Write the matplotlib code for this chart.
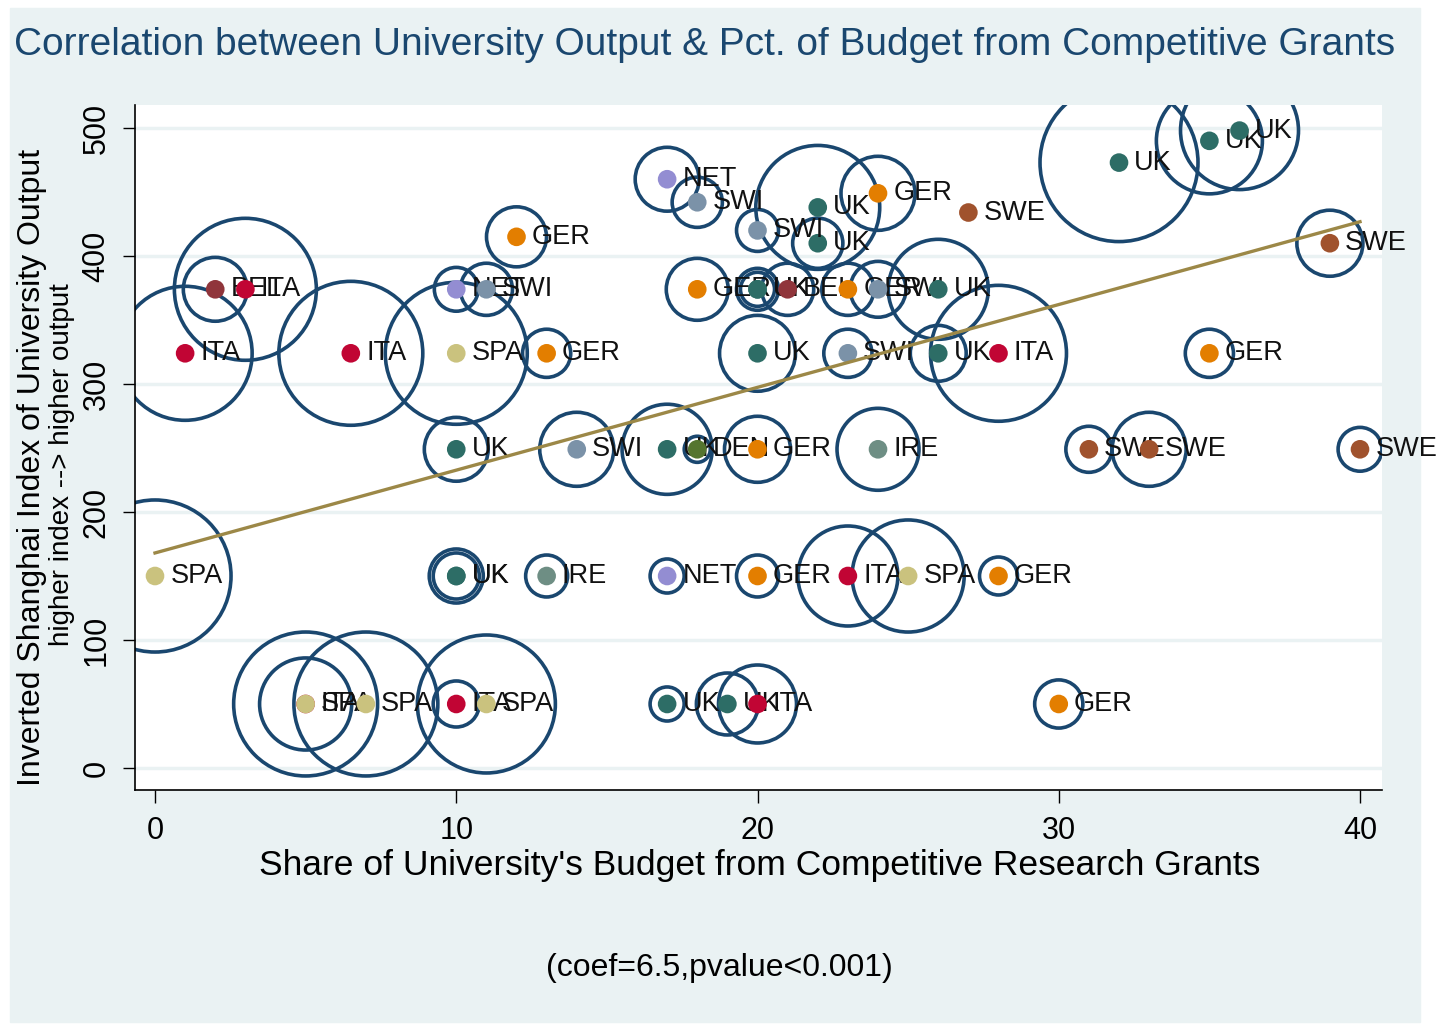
import numpy as np
import matplotlib.pyplot as plt
from matplotlib.patches import Rectangle

plt.rcParams['font.family'] = ['Liberation Sans', 'DejaVu Sans']

# Share of budget from competitive grants, inverted Shanghai index, country, bubble weight
share = [5, 5, 7, 10, 11, 17, 19, 20, 30,
         0, 10, 10, 13, 17, 20, 23, 25, 28,
         10, 14, 17, 18, 20, 24, 31, 33, 40,
         1, 6.5, 10, 13, 20, 23, 26, 28, 35,
         2, 3, 10, 11, 18, 20, 20, 21, 23, 24, 26,
         39, 22, 20, 22, 24, 27, 17, 18, 32, 35, 36, 12]
index = [50, 50, 50, 50, 50, 50, 50, 50, 50,
         150, 150, 150, 150, 150, 150, 150, 150, 150,
         249, 249, 249, 249, 249, 249, 249, 249, 249,
         324, 324, 324, 324, 324, 324, 324, 324, 324,
         374, 374, 374, 374, 374, 374, 374, 374, 374, 374, 374,
         410, 410, 420, 438, 449, 434, 460, 442, 473, 490, 498, 415]
country = ['ITA', 'SPA', 'SPA', 'ITA', 'SPA', 'UK', 'UK', 'ITA', 'GER',
           'SPA', 'UK', 'UK', 'IRE', 'NET', 'GER', 'ITA', 'SPA', 'GER',
           'UK', 'SWI', 'UK', 'DEN', 'GER', 'IRE', 'SWE', 'SWE', 'SWE',
           'ITA', 'ITA', 'SPA', 'GER', 'UK', 'SWI', 'UK', 'ITA', 'GER',
           'BEL', 'ITA', 'NET', 'SWI', 'GER', 'UK', 'UK', 'BEL', 'GER', 'SWI', 'UK',
           'SWE', 'UK', 'SWI', 'UK', 'GER', 'SWE', 'NET', 'SWI', 'UK', 'UK', 'UK', 'GER']
weight = [51.8, 21.2, 51.8, 5.3, 47.6, 2.9, 9.6, 15.2, 5.8,
          57.8, 7.3, 5.3, 4.4, 2.9, 4.4, 25.0, 31.4, 3.6,
          10.2, 13.7, 20.3, 1.7, 10.9, 16.8, 5.3, 13.7, 4.8,
          44.9, 51.8, 50.4, 5.8, 14.4, 5.8, 7.8, 46.2, 5.8,
          10.2, 50.4, 4.8, 6.8, 9.6, 4.4, 2.9, 6.8, 6.8, 7.8, 25.0,
          10.9, 6.3, 4.4, 38.4, 13.7, 0.0, 10.2, 6.3, 62.4, 28.1, 34.8, 9.0]

fit_intercept = 168
fit_slope = 6.47
fit_range = [0, 40]

colors = {'UK': '#2d6d66', 'GER': '#e37e00', 'ITA': '#c10534', 'SPA': '#cac27e',
          'SWE': '#a0522d', 'SWI': '#7b92a8', 'NET': '#938dd2', 'IRE': '#6e8e84',
          'BEL': '#90353b', 'DEN': '#55752f'}
navy = '#1a476f'
bg = '#eaf2f3'

W, H = 1437, 1025
fig = plt.figure(figsize=(W / 100, H / 100), dpi=100, facecolor='white')
fig.patches.append(Rectangle((10 / W, 1 - 1022 / H), 1410 / W, 1014 / H,
                             transform=fig.transFigure, color=bg, zorder=-10))

ax = fig.add_axes([135 / W, 1 - 790 / H, 1247 / W, 685 / H])
ax.set_zorder(1)
ax.set_facecolor('white')

x = np.array(share)
y = np.array(index)
w = np.array(weight)

# weighted bubbles
keep = w > 0
ax.scatter(x[keep], y[keep], s=w[keep] * 207.36, facecolors='none',
           edgecolors=navy, linewidths=2.6, zorder=2)

# country dots with labels
for xi, yi, c in zip(share, index, country):
    ax.scatter(xi, yi, s=180, color=colors[c], edgecolors='none', zorder=3)
    ax.annotate(c, (xi, yi), xytext=(11, 0), textcoords='offset points',
                ha='left', va='center', fontsize=19.5, color='#111111', zorder=3)

fx = np.array(fit_range)
ax.plot(fx, fit_intercept + fit_slope * fx, color='#9c8847', lw=2.4, zorder=4)

ax.set_xlim(-0.664, 40.73)
ax.set_ylim(-17.2, 518)
ax.set_xticks([0, 10, 20, 30, 40])
ax.set_yticks([0, 100, 200, 300, 400, 500])
ax.grid(axis='y', color=bg, lw=2.5, zorder=0)
ax.set_axisbelow(True)
for s in ['top', 'right']:
    ax.spines[s].set_visible(False)
for s in ['left', 'bottom']:
    ax.spines[s].set_linewidth(1.2)
ax.tick_params(axis='both', direction='out', length=9, width=1, labelsize=22)
ax.tick_params(axis='x', pad=10)
ax.tick_params(axis='y', pad=8)
plt.setp(ax.get_yticklabels(), rotation=90, va='center')

fig.text(705 / W, 1 - 45 / H,
         'Correlation between University Output & Pct. of Budget from Competitive Grants',
         ha='center', va='center', fontsize=28, color=navy)
fig.text(760 / W, 1 - 865 / H,
         "Share of University's Budget from Competitive Research Grants",
         ha='center', va='center', fontsize=25.5)
fig.text(32 / W, 1 - 467 / H, 'Inverted Shanghai Index of University Output',
         ha='center', va='center', rotation=90, fontsize=23)
fig.text(62 / W, 1 - 465 / H, 'higher index --> higher output',
         ha='center', va='center', rotation=90, fontsize=20)
fig.text(719 / W, 1 - 968 / H, '(coef=6.5,pvalue<0.001)',
         ha='center', va='center', fontsize=23)

fig.savefig('out.png', dpi=100, facecolor='white')
